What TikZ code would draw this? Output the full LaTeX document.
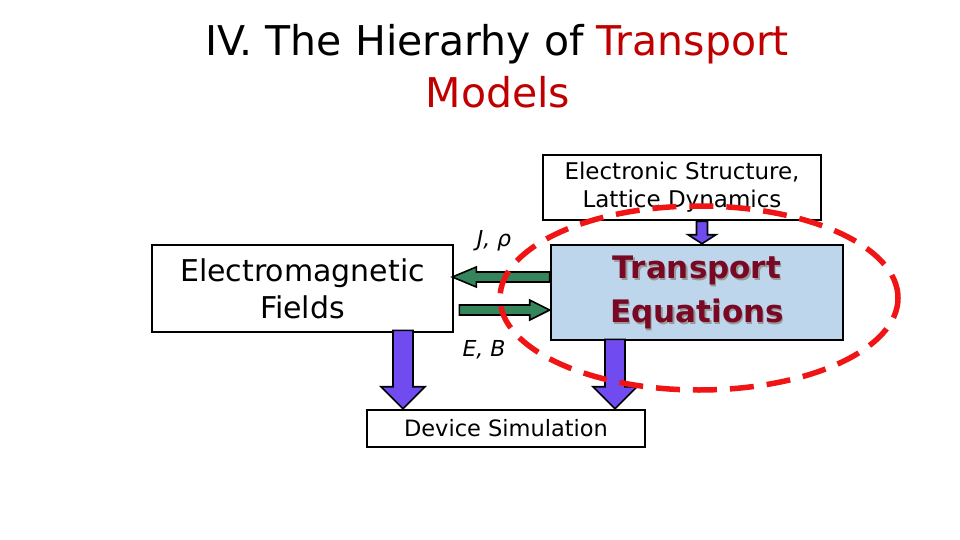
\documentclass[tikz,border=0pt]{standalone}
\usepackage{fontspec}
\setmainfont{DejaVu Sans}
\usetikzlibrary{calc,shapes.geometric}
\definecolor{titlered}{RGB}{192,0,0}
\definecolor{teblue}{RGB}{190,214,236}
\definecolor{tetext}{RGB}{120,8,36}
\definecolor{arrgreen}{RGB}{52,132,92}
\definecolor{arrpurple}{RGB}{112,76,240}
\definecolor{ringred}{RGB}{240,20,20}
\newcommand\blkarrow[6]{%
  \coordinate (tmpH) at ($(#2)!#5!(#1)$);
  \draw[line width=1.6pt,fill=#6,line join=miter]
    ($(#1)!#3!90:(#2)$) -- ($(tmpH)!#3!90:(#2)$) -- ($(tmpH)!#4!90:(#2)$) -- (#2)
    -- ($(tmpH)!#4!-90:(#2)$) -- ($(tmpH)!#3!-90:(#2)$) -- ($(#1)!#3!-90:(#2)$) -- cycle;}
\tikzset{
  box/.style={draw,line width=2.6pt,fill=white,inner sep=0pt,align=center},
  lbl/.style={font=\fontsize{22}{24}\selectfont\itshape,inner sep=0pt}
}
\begin{document}
\begin{tikzpicture}[x=1pt,y=-1pt]
\useasboundingbox (0,0) rectangle (960,540);
% title
\node[font=\fontsize{41}{48}\selectfont,align=center] (title1) at (497,44) {IV. The Hierarhy of \textcolor{titlered}{Transport}};
\node[font=\fontsize{41}{48}\selectfont,text=titlered] (title2) at (498,92) {Models};
% boxes
\node[box,minimum width=278,minimum height=65,font=\fontsize{23}{28}\selectfont] (es) at (682,187.5) {Electronic Structure,\\Lattice Dynamics};
\node[box,fill=teblue,minimum width=292,minimum height=95] (te) at (697,292.5) {};
\node[text=black!40,font=\fontsize{31}{44}\selectfont\bfseries,align=center] (teshadow) at (698.5,294.5) {Transport\\Equations};
\node[text=tetext,font=\fontsize{31}{44}\selectfont\bfseries,align=center] (tetext) at (te.center) {Transport\\Equations};
\node[box,minimum width=301,minimum height=87,font=\fontsize{30}{37}\selectfont] (em) at (302.5,288.5) {Electromagnetic\\Fields};
\node[box,minimum width=278,minimum height=37,font=\fontsize{22.5}{24}\selectfont] (ds) at (506,428.5) {Device Simulation};
% labels
\node[lbl] (lbJ) at (494,241) {J, ρ};
\node[lbl] (lbE) at (484,350) {E, B};
% arrows
\coordinate (a0s) at (702,0 |- es.south);
\coordinate (a0e) at (702,0 |- te.north);
\blkarrow{a0s}{a0e}{5.5pt}{14pt}{9pt}{arrpurple}
\coordinate (a1s) at ([yshift=3pt]403,0 |- em.south);
\coordinate (a1e) at (403,0 |- ds.north);
\blkarrow{a1s}{a1e}{10pt}{22pt}{22pt}{arrpurple}
\coordinate (a2s) at ([yshift=2pt]615,0 |- te.south);
\coordinate (a2e) at (615,0 |- ds.north);
\blkarrow{a2s}{a2e}{10pt}{22pt}{22pt}{arrpurple}
\coordinate (gjs) at (te.west |- 0,277);
\coordinate (gje) at ([xshift=-2pt]em.east |- 0,277);
\blkarrow{gjs}{gje}{5pt}{10pt}{24pt}{arrgreen}
\coordinate (ges) at ([xshift=5pt]em.east |- 0,310);
\coordinate (gee) at (te.west |- 0,310);
\blkarrow{ges}{gee}{5pt}{10pt}{20pt}{arrgreen}
% dashed ring
\node[draw=ringred,line width=5.5pt,ellipse,dash pattern=on 24pt off 13pt,minimum width=398,minimum height=184,inner sep=0pt] (ring) at (699,298) {};
\end{tikzpicture}
\end{document}
